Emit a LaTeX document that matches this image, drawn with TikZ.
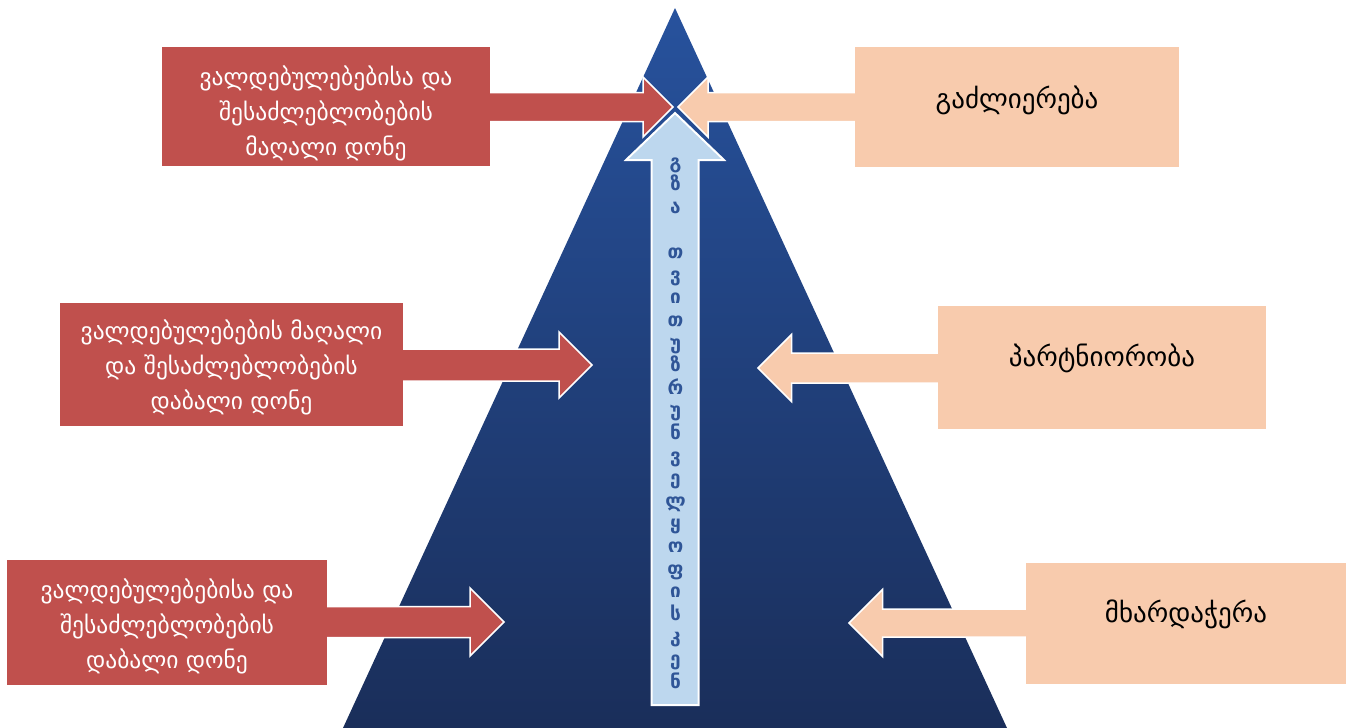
\documentclass[tikz,border=0pt]{standalone}
\usepackage{fontspec}
\setmainfont{DejaVu Sans}
\usetikzlibrary{calc}
\definecolor{boxred}{HTML}{C0504D}
\definecolor{boxpeach}{HTML}{F8CBAD}
\definecolor{pyrtop}{HTML}{27529D}
\definecolor{pyrbot}{HTML}{1A2E5A}
\definecolor{arrblue}{HTML}{BDD7EE}
\definecolor{txtblue}{HTML}{2F5597}
\newcommand\blockarr[5]{%
  \path[#1] let \p1=(#2), \p2=(#3), \n1={sign(\x2-\x1)} in
    (\x1-\n1*6pt,\y2+#4) -- (\x2-\n1*#5,\y2+#4) -- (\x2-\n1*#5,\y2+#5) -- (\x2,\y2)
    -- (\x2-\n1*#5,\y2-#5) -- (\x2-\n1*#5,\y2-#4) -- (\x1-\n1*6pt,\y2-#4) -- cycle;}
\tikzset{
  redbox/.style={fill=boxred, inner sep=0pt, text=white, align=center,
    font=\fontsize{23.5}{35}\selectfont},
  peachbox/.style={fill=boxpeach, inner sep=0pt, text=black, align=center,
    font=\fontsize{27}{30}\selectfont},
  redarrow/.style={fill=boxred, draw=white, line width=1.5pt, line join=miter},
  peacharrow/.style={fill=boxpeach, draw=white, line width=1.5pt, line join=miter},
  bluearrow/.style={fill=arrblue, draw=white, line width=2pt, line join=miter},
  vlabel/.style={text=txtblue, align=center, inner sep=0pt,
    font=\bfseries\fontsize{19}{22.6}\selectfont}
}
\begin{document}
\begin{tikzpicture}[x=1pt,y=-1pt]
\useasboundingbox (0,0) rectangle (1349,728);
% pyramid
\coordinate (apex) at (675,8);
\coordinate (bleft) at (343,728);
\coordinate (bright) at (1007,728);
\shade[top color=pyrtop, bottom color=pyrbot] (apex) -- (bright) -- (bleft) -- cycle;
% arrow tips
\coordinate (ttl) at (673,107);
\coordinate (ttr) at (678,107);
\coordinate (tml) at (592,365);
\coordinate (tmr) at (758,368);
\coordinate (tbl) at (504,622);
\coordinate (tbr) at (849,623);
\coordinate (ctip) at (675,113);
\coordinate (cbase) at (675,705);
% box frames (named, empty; filled again on top of the arrows below)
\path node[minimum width=328pt, minimum height=119pt, inner sep=0pt] (tl) at (326,106.5) {};
\path node[minimum width=343pt, minimum height=123pt, inner sep=0pt] (ml) at (231.5,364.5) {};
\path node[minimum width=320pt, minimum height=125pt, inner sep=0pt] (bl) at (167,622.5) {};
\path node[minimum width=324pt, minimum height=120pt, inner sep=0pt] (tr) at (1017,107) {};
\path node[minimum width=328pt, minimum height=123pt, inner sep=0pt] (mr) at (1102,367.5) {};
\path node[minimum width=320pt, minimum height=121pt, inner sep=0pt] (br) at (1186,623.5) {};
% central arrow
\path[bluearrow] let \p1=(cbase), \p2=(ctip) in
  (\x2-23.5pt,\y1) -- (\x2-23.5pt,\y2-47pt) -- (\x2-49pt,\y2-47pt) -- (\x2,\y2)
  -- (\x2+49pt,\y2-47pt) -- (\x2+23.5pt,\y2-47pt) -- (\x2+23.5pt,\y1) -- cycle;
% side arrows
\blockarr{redarrow}{tl.east}{ttl}{14.5pt}{30pt}
\blockarr{peacharrow}{tr.west}{ttr}{14.5pt}{30pt}
\blockarr{redarrow}{ml.east}{tml}{16pt}{33pt}
\blockarr{peacharrow}{mr.west}{tmr}{15pt}{33.5pt}
\blockarr{redarrow}{bl.east}{tbl}{15.5pt}{34pt}
\blockarr{peacharrow}{br.west}{tbr}{14pt}{33.5pt}
% boxes on top
\fill[boxred] (tl.north west) rectangle (tl.south east);
\node[redbox] (tlt) at (326,113) {ვალდებულებებისა და\\შესაძლებლობების\\მაღალი დონე};
\fill[boxred] (ml.north west) rectangle (ml.south east);
\node[redbox] (mlt) at (231.5,367.5) {ვალდებულებების მაღალი\\და შესაძლებლობების\\დაბალი დონე};
\fill[boxred] (bl.north west) rectangle (bl.south east);
\node[redbox] (blt) at (167,626) {ვალდებულებებისა და\\შესაძლებლობების\\დაბალი დონე};
\fill[boxpeach] (tr.north west) rectangle (tr.south east);
\node[peachbox] (trt) at (1017,100) {გაძლიერება};
\fill[boxpeach] (mr.north west) rectangle (mr.south east);
\node[peachbox] (mrt) at (1102,358) {პარტნიორობა};
\fill[boxpeach] (br.north west) rectangle (br.south east);
\node[peachbox] (brt) at (1186,614) {მხარდაჭერა};
% vertical text
\node[vlabel] (vt) at (675.5,423) {გ\\ზ\\ა\\[22.6pt]თ\\ვ\\ი\\თ\\უ\\ზ\\რ\\უ\\ნ\\ვ\\ე\\ლ\\ყ\\ო\\ფ\\ი\\ს\\კ\\ე\\ნ};
\end{tikzpicture}
\end{document}
